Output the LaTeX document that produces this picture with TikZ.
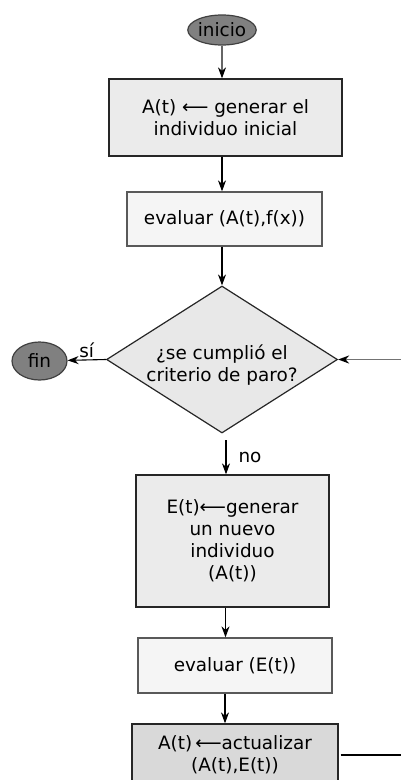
\documentclass[tikz,border=0pt]{standalone}
\usepackage{fontspec}
\setmainfont{DejaVu Sans}
\usetikzlibrary{shapes.geometric,arrows.meta}

\begin{document}
\begin{tikzpicture}[
        x=1pt, y=-1pt,
        every node/.style={font=\fontsize{18.4}{22}\selectfont, align=center, inner sep=0pt},
        terminal/.style={ellipse, draw=black!75, line width=1.2pt, fill=black!50, minimum width=55pt, minimum height=30pt}, % inicio y fin
        proceso/.style={rectangle, draw=black!85, line width=1.3pt, fill=black!8}, % cajas de generar/actualizar
        evaluacion/.style={rectangle, draw=black!65, line width=1.3pt, fill=black!4}, % cajas de evaluar
        decision/.style={diamond, aspect=1.57, draw=black!85, line width=1.2pt, fill=black!9, minimum width=231pt, minimum height=147pt},
        flecha/.style={draw, line width=1.1pt, -{Stealth[length=11pt,width=8pt,inset=3.5pt,color=black]}},
        retorno/.style={flecha, draw=black!55, line width=1.8pt}
    ]
    \clip (0,0) rectangle (401,780);

    \node[terminal] (inicio) at (222,30) {inicio};
    \node[proceso, minimum width=233pt, minimum height=77pt] (generar) at (225.5,117.5) {A(t) ⟵ generar el\\individuo inicial};
    \node[evaluacion, minimum width=195pt, minimum height=54pt] (evalA) at (224.5,219) {evaluar (A(t),f(x))};
    \node[decision] (paro) at (222,359.5) {};
    \node (pregunta) at ([yshift=-6pt]paro.center) {¿se cumplió el\\criterio de paro?};
    \node[terminal, minimum height=38pt] (fin) at (39.5,361) {fin};
    \node[proceso, minimum width=193pt, minimum height=132pt] (nuevo) at (232.5,541) {E(t)⟵generar\\un nuevo\\individuo\\(A(t))};
    \node[evaluacion, minimum width=194pt, minimum height=55pt] (evalE) at (235,665.5) {evaluar (E(t))};
    \node[proceso, fill=black!15, minimum width=206pt, minimum height=62pt] (actualizar) at (235,755) {A(t)\,⟵actualizar\\(A(t),E(t))};

    \coordinate (entrada) at (401,359.5);
    \coordinate (salida) at (401,755);
    \coordinate (no) at (226,440);

    \draw[flecha, draw=black!60] (inicio) -- (inicio |- generar.north);
    \draw[flecha] (generar.south -| inicio) -- (inicio |- evalA.north);
    \draw[flecha] (evalA.south -| paro.north) -- (paro.north);
    \draw[flecha] (paro.west) -- node[above=2pt] {sí} (fin);
    \draw[retorno] (entrada) -- (paro.east);
    \draw[flecha] (no) -- node[right=12pt] {no} (no |- nuevo.north);
    \draw[flecha] ([xshift=-7pt]nuevo.south) -- ([xshift=-7pt]nuevo.south |- evalE.north);
    \draw[flecha] ([xshift=-10pt]evalE.south) -- ([xshift=-10pt]evalE.south |- actualizar.north);
    \draw[line width=1.2pt] ([xshift=2pt]actualizar.east |- salida) -- (salida);
\end{tikzpicture}
\end{document}
